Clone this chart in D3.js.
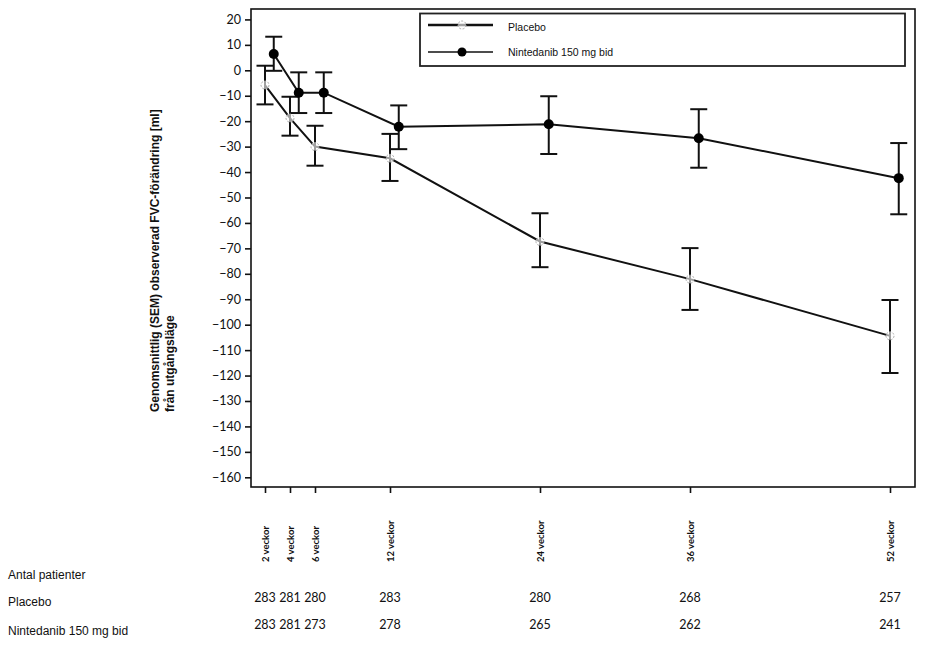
<!DOCTYPE html>
<html><head><meta charset="utf-8">
<script src="https://cdn.jsdelivr.net/npm/d3@7"></script>
<style>body{margin:0;background:#fff}svg{display:block}</style>
</head><body>
<svg id="c" width="945" height="650"></svg>
<script>
const weeks = [2, 4, 6, 12, 24, 36, 52];
const weekLabels = ["2 veckor", "4 veckor", "6 veckor", "12 veckor", "24 veckor", "36 veckor", "52 veckor"];
const yTicks = d3.range(20, -161, -10);
const placeboMean = [-5.8, -18.8, -30, -34.6, -67.3, -82.1, -104.4];
const placeboLow  = [-13.4, -25.7, -37.5, -43.5, -77.4, -94.2, -119];
const placeboHigh = [1.8, -10.4, -21.8, -25, -56.2, -69.9, -90.3];
const ninMean = [6.4, -8.8, -8.8, -22.2, -21.2, -26.7, -42.4];
const ninLow  = [-0.2, -16.8, -16.8, -31, -32.9, -38.3, -56.6];
const ninHigh = [13.2, -0.8, -0.8, -13.8, -10.2, -15.3, -28.6];
const placeboN = [283, 281, 280, 283, 280, 268, 257];
const ninN = [283, 281, 273, 278, 265, 262, 241];
const seriesNames = ["Placebo", "Nintedanib 150 mg bid"];
const tableTitle = "Antal patienter";
const yTitle1 = "Genomsnittlig (SEM) observerad FVC-förändring [ml]";
const yTitle2 = "från utgångsläge";

const svg = d3.select("#c");
const x = d3.scaleLinear().domain([0, 52]).range([240, 890]);
const y = d3.scaleLinear().domain([0, -160]).range([70.3, 477.3]);
const dodge = 0.7;
const L = 251, R = 915, T = 9, B = 487;
const numFont = "Lato, 'Liberation Sans', sans-serif";
const txtFont = "'Liberation Sans', Arial, sans-serif";

// frame
svg.append("rect").attr("x", L).attr("y", T).attr("width", R - L).attr("height", B - T)
  .attr("fill", "none").attr("stroke", "#111").attr("stroke-width", 1.6);

// y axis
const yAxis = d3.axisLeft(y).tickValues(yTicks).tickSize(6).tickPadding(4).tickSizeOuter(0);
const gy = svg.append("g").attr("transform", `translate(${L},0)`).call(yAxis);
gy.select(".domain").remove();
gy.selectAll("line").attr("stroke", "#111").attr("stroke-width", 1.6);
gy.selectAll("text").attr("font-family", numFont).attr("font-size", 12.5).attr("fill", "#111");

// x axis
const xAxis = d3.axisBottom(x).tickValues(weeks).tickSize(6).tickFormat("");
const gx = svg.append("g").attr("transform", `translate(0,${B})`).call(xAxis);
gx.select(".domain").remove();
gx.selectAll("line").attr("stroke", "#111").attr("stroke-width", 1.6);

// x tick labels rotated
svg.append("g").selectAll("text").data(weeks).join("text")
  .attr("transform", d => `translate(${x(d) + 0.5},562) rotate(-90)`)
  .attr("dy", "0.35em").attr("text-anchor", "start")
  .attr("font-family", numFont).attr("font-weight", "bold").attr("font-size", 9.5).attr("fill", "#111")
  .text((d, i) => weekLabels[i]);

// y title
svg.append("text").attr("transform", "translate(159,412) rotate(-90)")
  .attr("font-family", txtFont).attr("font-weight", "bold").attr("font-size", 12).attr("fill", "#111")
  .text(yTitle1);
svg.append("text").attr("transform", "translate(174,412) rotate(-90)")
  .attr("font-family", txtFont).attr("font-weight", "bold").attr("font-size", 12).attr("fill", "#111")
  .text(yTitle2);

// lines
const line = d3.line();
const pPts = weeks.map((w, i) => [x(w), y(placeboMean[i])]);
const nPts = weeks.map((w, i) => [x(w + dodge), y(ninMean[i])]);
svg.append("path").attr("d", line(pPts)).attr("fill", "none").attr("stroke", "#111").attr("stroke-width", 2);
svg.append("path").attr("d", line(nPts)).attr("fill", "none").attr("stroke", "#111").attr("stroke-width", 2);

// error bars
function errBars(offset, lo, hi) {
  const g = svg.append("g").attr("stroke", "#111").attr("stroke-width", 2).attr("fill", "none");
  weeks.forEach((w, i) => {
    const cx = x(w + offset);
    g.append("line").attr("x1", cx).attr("x2", cx).attr("y1", y(lo[i])).attr("y2", y(hi[i]));
    g.append("line").attr("x1", cx - 8.5).attr("x2", cx + 8.5).attr("y1", y(lo[i])).attr("y2", y(lo[i]));
    g.append("line").attr("x1", cx - 8.5).attr("x2", cx + 8.5).attr("y1", y(hi[i])).attr("y2", y(hi[i]));
  });
}
errBars(0, placeboLow, placeboHigh);
errBars(dodge, ninLow, ninHigh);

// markers
svg.append("g").selectAll("circle").data(pPts).join("circle")
  .attr("cx", d => d[0]).attr("cy", d => d[1]).attr("r", 4)
  .attr("fill", "#fff").attr("fill-opacity", 0.6).attr("stroke", "#aaa").attr("stroke-width", 1).attr("stroke-dasharray", "2,1.5");
svg.append("g").selectAll("circle").data(nPts).join("circle")
  .attr("cx", d => d[0]).attr("cy", d => d[1]).attr("r", 5).attr("fill", "#000");

// legend
svg.append("rect").attr("x", 420).attr("y", 13.5).attr("width", 485).attr("height", 52.5)
  .attr("fill", "#fff").attr("stroke", "#222").attr("stroke-width", 1.8);
svg.append("line").attr("x1", 428).attr("x2", 493).attr("y1", 25).attr("y2", 25).attr("stroke", "#111").attr("stroke-width", 2.6);
svg.append("circle").attr("cx", 462).attr("cy", 25).attr("r", 4).attr("fill", "#fff").attr("fill-opacity", 0.6)
  .attr("stroke", "#aaa").attr("stroke-dasharray", "2,1.5");
svg.append("line").attr("x1", 428).attr("x2", 493).attr("y1", 52).attr("y2", 52).attr("stroke", "#111").attr("stroke-width", 1.5);
svg.append("circle").attr("cx", 462).attr("cy", 52).attr("r", 4.5).attr("fill", "#000");
svg.append("g").selectAll("text").data(seriesNames).join("text")
  .attr("x", 508).attr("y", (d, i) => i === 0 ? 29 : 52).attr("dy", i => "0.35em")
  .attr("font-family", txtFont).attr("font-size", 10.5).attr("fill", "#111").text(d => d);
svg.selectAll("g text").filter(function(){return this.textContent===seriesNames[0];}).attr("dy", "0.2em");

// table
const rowLabels = [tableTitle, seriesNames[0], seriesNames[1]];
const rowY = [575, 602, 631];
svg.append("g").selectAll("text").data(rowLabels).join("text")
  .attr("x", 8).attr("y", (d, i) => rowY[i]).attr("dy", "0.35em")
  .attr("font-family", txtFont).attr("font-size", 12).attr("fill", "#111").text(d => d);
[placeboN, ninN].forEach((arr, r) => {
  svg.append("g").selectAll("text").data(weeks).join("text")
    .attr("x", d => x(d)).attr("y", r === 0 ? 597.5 : 624.5).attr("dy", "0.35em")
    .attr("text-anchor", "middle").attr("font-family", numFont).attr("font-size", 12.5).attr("fill", "#111")
    .text((d, i) => arr[i]);
});
</script>
</body></html>
